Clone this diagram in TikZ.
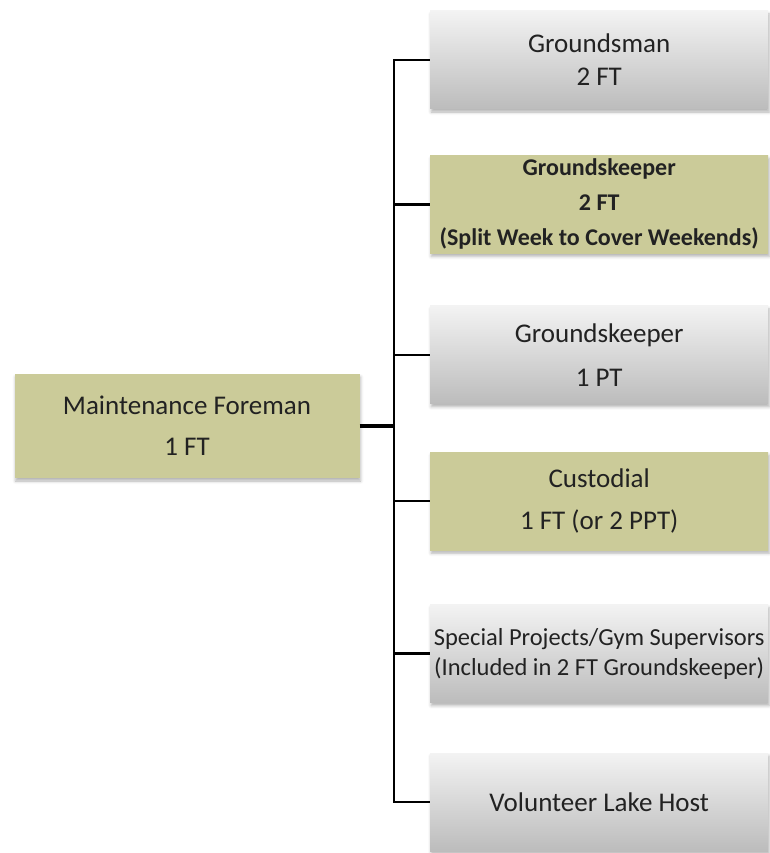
\documentclass[tikz,border=0pt]{standalone}
\usepackage{fontspec}
\setmainfont{Carlito}
\usetikzlibrary{positioning, shadows.blur}
\definecolor{olivebox}{HTML}{CBCB99}
\definecolor{greytop}{HTML}{F3F3F3}
\definecolor{greybottom}{HTML}{BCBCBC}
\definecolor{inktext}{HTML}{222222}

\begin{document}
\begin{tikzpicture}[
    x=1pt, y=-1pt,
    every node/.style={inner sep=0pt},
    headbox/.style={
        fill=olivebox, minimum width=345pt, minimum height=104pt,
        font=\fontsize{27}{41}\selectfont, text=inktext, align=center,
        blur shadow={shadow xshift=1pt, shadow yshift=-3pt,
                     shadow blur radius=3pt, shadow opacity=30}
    },
    staffbox/.style={
        top color=greytop, bottom color=greybottom,
        minimum width=338pt, minimum height=98pt, anchor=west,
        font=\fontsize{27}{33}\selectfont, text=inktext, align=center,
        blur shadow={shadow xshift=1pt, shadow yshift=-3pt,
                     shadow blur radius=3pt, shadow opacity=30}
    },
    olivestaff/.style={staffbox, fill=olivebox, top color=olivebox, bottom color=olivebox},
    link/.style={draw=black, line width=2.3pt},
    headlink/.style={draw=black, line width=3.4pt},
]

% === page frame ===
\useasboundingbox (0,0) rectangle (769,853);

% === Foreman ===
\node[headbox] (foreman) at (187,426) {Maintenance Foreman\\1 FT};

% === Staff column ===
\node[staffbox] (groundsman) at (430,60) {Groundsman\\2 FT};
\node[olivestaff, below=46pt of groundsman,
      font=\fontsize{24}{35}\selectfont\bfseries] (keeperft)
      {Groundskeeper\\2 FT\\(Split Week to Cover Weekends)};
\node[staffbox, below=52pt of keeperft,
      font=\fontsize{27}{44}\selectfont] (keeperpt) {Groundskeeper\\1 PT};
\node[olivestaff, below=48pt of keeperpt,
      font=\fontsize{27}{42}\selectfont] (custodial) {Custodial\\1 FT (or 2 PPT)};
\node[staffbox, below=54pt of custodial,
      font=\fontsize{24.5}{30}\selectfont] (projects)
      {Special Projects/Gym Supervisors\\(Included in 2 FT Groundskeeper)};
\node[staffbox, below=50pt of projects] (lakehost) {Volunteer Lake Host};

% === Connectors ===
\coordinate (hub) at (394,426);
\draw[headlink] (foreman.east) -- (hub);
\draw[link] (hub) |- (groundsman.west);
\draw[link] (hub) |- (keeperft.west);
\draw[link] (hub) |- (keeperpt.west);
\draw[link] (hub) |- (custodial.west);
\draw[link] (hub) |- (projects.west);
\draw[link] (hub) |- (lakehost.west);

\end{tikzpicture}
\end{document}
